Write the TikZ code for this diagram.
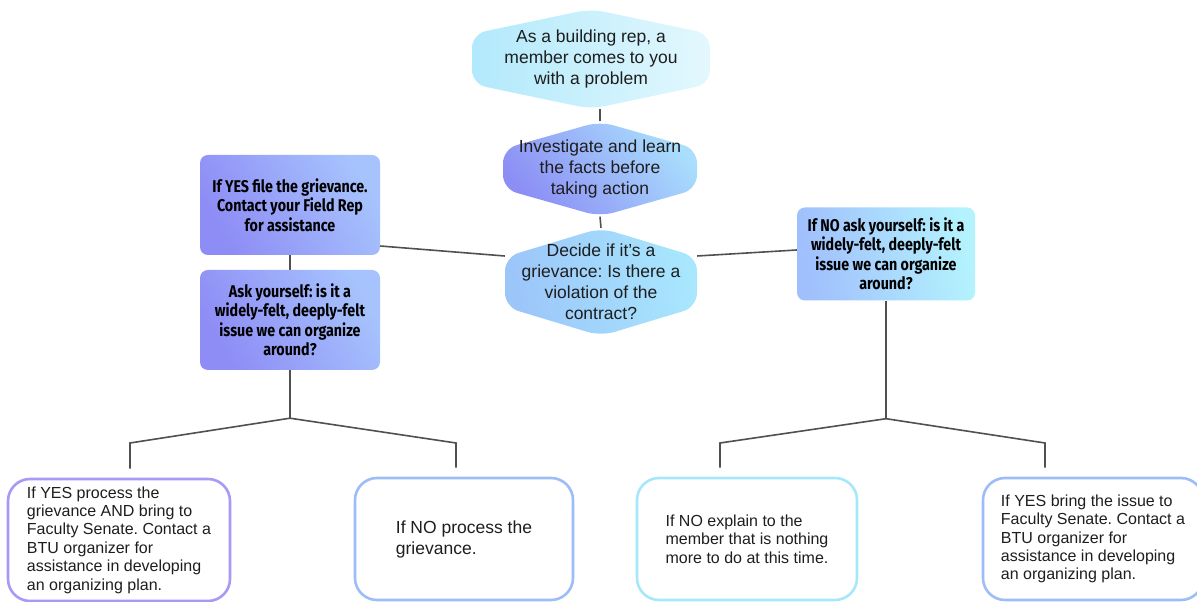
\documentclass[tikz,border=0pt]{standalone}
\usepackage{fontspec}
\setmainfont{Liberation Sans}
\newfontfamily\condfont[FakeStretch=0.84]{Fira Sans}
\usetikzlibrary{backgrounds}
\frenchspacing

\definecolor{ink}{HTML}{1E1E1E}
\definecolor{linegray}{HTML}{505050}
\definecolor{cyanL}{HTML}{B2E9FC}
\definecolor{cyanR}{HTML}{E3F8FD}
\definecolor{violetL}{HTML}{8C8EF5}
\definecolor{skyR}{HTML}{A9DEFD}
\definecolor{blueL}{HTML}{9CC5FA}
\definecolor{blueR}{HTML}{A8E7FD}
\definecolor{tagL}{HTML}{8E8CF5}
\definecolor{tagR}{HTML}{A6C3FD}
\definecolor{noL}{HTML}{A0BFFD}
\definecolor{noR}{HTML}{B4F3FD}
\definecolor{rimViolet}{HTML}{A899F7}
\definecolor{rimBlue}{HTML}{9CBDF7}
\definecolor{rimCyan}{HTML}{A6E7FC}

% shaded hexagon inside a node: side half-height, colours, angle
\newcommand\hexfill[4]{\shade[left color=#2,right color=#3,shading angle=#4,rounded corners=14pt]
  ([yshift=#1]path picture bounding box.west) -- (path picture bounding box.north)
  -- ([yshift=#1]path picture bounding box.east) -- ([yshift=-#1]path picture bounding box.east)
  -- (path picture bounding box.south) -- ([yshift=-#1]path picture bounding box.west) -- cycle;}

\begin{document}
\begin{tikzpicture}[x=1pt,y=1pt,line cap=round,
  conn/.style={draw=linegray,line width=1.6pt},
  hex/.style={inner sep=0pt,align=center,text=ink,font=\fontsize{17.5}{21}\selectfont},
  tag/.style={rounded corners=8pt,inner sep=0pt,align=center,text=black,
    font=\condfont\bfseries\fontsize{17}{19.5}\selectfont},
  leaf/.style={draw,line width=2.6pt,rounded corners=22pt,fill=white,inner sep=0pt,
    align=left,minimum width=220pt,minimum height=122pt,text=ink,font=\fontsize{16}{18.4}\selectfont}]
\useasboundingbox (0,0) rectangle (1197,602);

% centre column
\node[hex,minimum width=238pt,minimum height=100pt,path picture={\hexfill{25pt}{cyanL}{cyanR}{90}}]
  (member) at (591,543) {As a building rep, a\\member comes to you\\with a problem};
\node[hex,minimum width=194pt,minimum height=95pt,path picture={\hexfill{20pt}{violetL}{skyR}{130}}]
  (investigate) at (600,433) {Investigate and learn\\the facts before\\taking action};
\node[hex,minimum width=192pt,minimum height=108pt,path picture={\hexfill{25pt}{blueL}{blueR}{100}}]
  (decide) at (601,320) {Decide if it’s a\\grievance: Is there a\\violation of the\\contract?};

% side boxes
\node[tag,minimum width=180pt,minimum height=100pt,left color=tagL,right color=tagR,shading angle=120]
  (fileyes) at (290,397) {If YES file the grievance.\\Contact your Field Rep\\for assistance};
\node[tag,minimum width=180pt,minimum height=100pt,left color=tagL,right color=tagR,shading angle=120]
  (askleft) at (290,282) {Ask yourself: is it a\\widely-felt, deeply-felt\\issue we can organize\\around?};
\node[tag,minimum width=178pt,minimum height=93pt,left color=noL,right color=noR,shading angle=100]
  (askright) at (886,348) {If NO ask yourself: is it a\\widely-felt, deeply-felt\\issue we can organize\\around?};

% bottom row
\node[leaf,draw=rimViolet,minimum width=222pt] (yesboth) at (119,62)
  {If YES process the\\grievance AND bring to\\Faculty Senate. Contact a\\BTU organizer for\\assistance in developing\\an organizing plan.};
\node[leaf,draw=rimBlue,minimum width=218pt,font=\fontsize{17.5}{21}\selectfont] (noproc) at (464,63)
  {If NO process the\\grievance.};
\node[leaf,draw=rimCyan] (noexplain) at (747,63)
  {If NO explain to the\\member that is nothing\\more to do at this time.};
\node[leaf,draw=rimBlue] (yessenate) at (1093,63)
  {If YES bring the issue to\\Faculty Senate. Contact a\\BTU organizer for\\assistance in developing\\an organizing plan.};

\coordinate (lk1) at (130,159);
\coordinate (lk2) at (456,159);
\coordinate (rk1) at (720,159);
\coordinate (rk2) at (1045,159);

\begin{scope}[on background layer]
\draw[conn] (investigate.north) -- (investigate.north |- member.south);
\draw[conn] (decide.north) -- (investigate.south);
\draw[conn] ([yshift=26pt]decide.west) -- ([yshift=-41pt]fileyes.east);
\draw[conn] ([yshift=26pt]decide.east) -- ([yshift=4pt]askright.west);
\draw[conn] (fileyes.south) -- (askleft.north);
\draw[conn] (askleft.south) -- ++(0,-48) coordinate (lj);
\draw[conn,shorten >=9pt] (lj) -- (lk1) -- (lk1 |- yesboth.north);
\draw[conn,shorten >=9pt] (lj) -- (lk2) -- (lk2 |- noproc.north);
\draw[conn] (askright.south) -- ++(0,-118) coordinate (rj);
\draw[conn,shorten >=9pt] (rj) -- (rk1) -- (rk1 |- noexplain.north);
\draw[conn,shorten >=9pt] (rj) -- (rk2) -- (rk2 |- yessenate.north);
\end{scope}
\end{tikzpicture}
\end{document}
